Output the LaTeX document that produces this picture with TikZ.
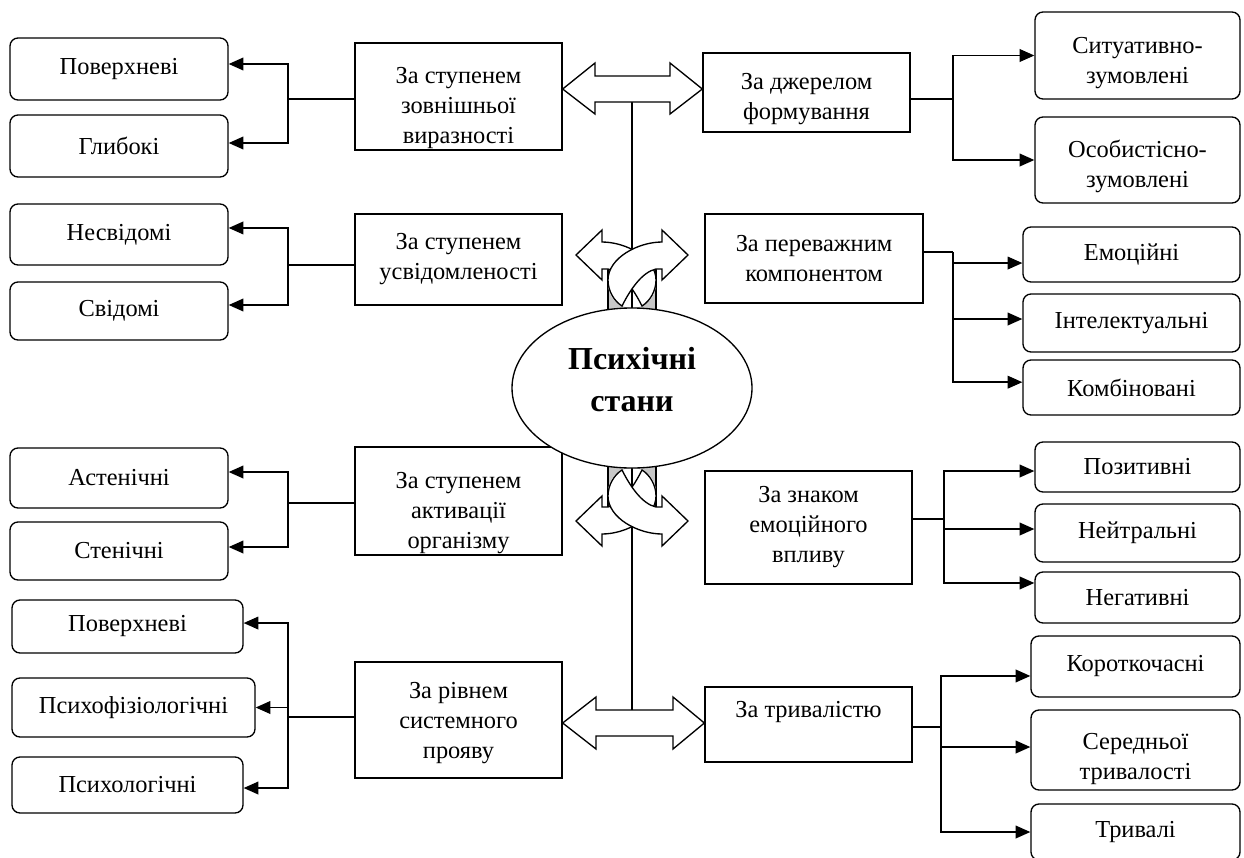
\documentclass[tikz,border=0pt]{standalone}
\usepackage{fontspec}
\setmainfont{Liberation Serif}
\usetikzlibrary{arrows.meta,shapes.geometric}
% invisible strut that pushes a centred text block down by #1 px
\newcommand\lowerby[1]{\rule{0pt}{\dimexpr 12pt+#1pt*3/2\relax}}
\begin{document}
\begin{tikzpicture}[x=0.75pt,y=-0.75pt,
  txt/.style={font=\fontsize{18.3}{22.5}\selectfont, align=center, inner sep=0pt},
  wh/.style 2 args={minimum width=#1*0.75pt, minimum height=#2*0.75pt},
  cat/.style={txt, draw, line width=1pt},
  leaf/.style={txt, draw, line width=1pt, rounded corners=6pt},
  conn/.style={line width=1.1pt},
  arr/.style={conn, -{Triangle[length=11pt,width=9.5pt]}},
  fat/.style={draw, fill=white, line width=1pt, line join=miter},
  twist/.pic={
    % grey backing plate between the two curved arrows
    \filldraw[fill=black!22, line width=0.9pt] (-24,-40) rectangle (24,4);
    \fill[white] (0,-24) circle[radius=24];
    % rear arrow, pointing left
    \path[fat] (10,-2) .. controls (18,-7) and (24,-17) .. (24,-28)
      .. controls (24,-50) and (-6,-66) .. (-30,-66)
      -- (-30,-78) -- (-56,-53) -- (-30,-28) -- (-30,-39) -- (-24,-39)
      .. controls (-10,-36) and (2,-18) .. (10,-2) -- cycle;
    \draw[conn] (0,-45) -- (0,3);
    % front arrow, pointing right
    \path[fat] (-10,-2) .. controls (-18,-7) and (-24,-17) .. (-24,-28)
      .. controls (-24,-50) and (6,-66) .. (30,-66)
      -- (30,-78) -- (56,-53) -- (30,-28) -- (30,-39) -- (24,-39)
      .. controls (10,-36) and (-2,-18) .. (-10,-2) -- cycle;
  }
]
\fill[white] (0,0) rectangle (1244,857);
\useasboundingbox (0,0) rectangle (1244,857);

% ---- classification criteria, left
\node[cat, wh={207}{107}] (k1) at (458.5,96.5) {\lowerby{12}За ступенем\\зовнішньої\\виразності};
\node[cat, wh={207}{91}]  (k2) at (458.5,259.5) {За ступенем\\усвідомленості};
\node[cat, wh={207}{108}] (k3) at (458.5,501) {\lowerby{12}За ступенем\\активації\\організму};
\node[cat, wh={207}{116}] (k4) at (458.5,720) {\lowerby{3}За рівнем\\системного\\прояву};

% ---- classification criteria, right
\node[cat, wh={207}{79}]  (r1) at (806.5,92.5) {\lowerby{7}За джерелом\\формування};
\node[cat, wh={218}{89}]  (r2) at (814,258.5) {За переважним\\компонентом};
\node[cat, wh={207}{113}] (r3) at (808.5,527.5) {За знаком\\емоційного\\впливу};
\node[cat, wh={207}{75}]  (r4) at (808.5,724.5) {За тривалістю\\\mbox{}};

% ---- kinds of states, left
\node[leaf, wh={218}{62}] (l1) at (119,69) {Поверхневі};
\node[leaf, wh={218}{62}] (l2) at (119,146) {Глибокі};
\node[leaf, wh={218}{61}] (l3) at (119,234.5) {Несвідомі};
\node[leaf, wh={218}{58}] (l4) at (119,311) {Свідомі};
\node[leaf, wh={218}{60}] (l5) at (119,478) {Астенічні};
\node[leaf, wh={218}{58}] (l6) at (119,551) {Стенічні};
\node[leaf, wh={231}{53}] (l7) at (127.5,626.5) {Поверхневі};
\node[leaf, wh={243}{59}] (l8) at (133.5,707.5) {Психофізіологічні};
\node[leaf, wh={231}{56}] (l9) at (127.5,785) {Психологічні};

% ---- kinds of states, right
\node[leaf, wh={205}{87}] (s1) at (1137.5,55.5) {\lowerby{8}Ситуативно-\\зумовлені};
\node[leaf, wh={205}{86}] (s2) at (1137.5,160) {\lowerby{7}Особистісно-\\зумовлені};
\node[leaf, wh={217}{55}] (s3) at (1131.5,254.5) {Емоційні};
\node[leaf, wh={217}{58}] (s4) at (1131.5,323) {Інтелектуальні};
\node[leaf, wh={217}{55}] (s5) at (1131.5,387.5) {Комбіновані};
\node[leaf, wh={205}{50}] (s6) at (1137.5,467) {Позитивні};
\node[leaf, wh={205}{58}] (s7) at (1137.5,533) {Нейтральні};
\node[leaf, wh={205}{51}] (s8) at (1137.5,597.5) {Негативні};
\node[leaf, wh={209}{61}] (s9) at (1135.5,666.5) {Короткочасні};
\node[leaf, wh={209}{80}] (s10) at (1135.5,750) {\lowerby{9}Середньої\\тривалості};
\node[leaf, wh={209}{56}] (s11) at (1135.5,832) {Тривалі};

% ---- branching connectors, left
\coordinate (jl1) at (288,99);
\coordinate (jl2) at (288,265);
\coordinate (jl3) at (288,503);
\coordinate (jl4) at (288,717);
\draw[conn] (k1.west |- jl1) -- (jl1);
\draw[arr] (jl1) |- ([yshift=3.75pt]l1.east);
\draw[arr] (jl1) |- ([yshift=2.25pt]l2.east);
\draw[conn] (k2.west |- jl2) -- (jl2);
\draw[arr] (jl2) |- ([yshift=4.9pt]l3.east);
\draw[arr] (jl2) |- ([yshift=4.5pt]l4.east);
\draw[conn] (k3.west |- jl3) -- (jl3);
\draw[arr] (jl3) |- ([yshift=4.5pt]l5.east);
\draw[arr] (jl3) |- ([yshift=3pt]l6.east);
\draw[conn] (k4.west |- jl4) -- (jl4);
\draw[arr] (jl4) |- ([yshift=2.6pt]l7.east);
\draw[arr] (jl4) |- (l8.east);
\draw[arr] (jl4) |- ([yshift=-2.25pt]l9.east);

% ---- branching connectors, right
\coordinate (jr1) at (953,99);
\coordinate (jr2) at (953,252);
\coordinate (jr3) at (944,519);
\coordinate (jr4) at (941,727);
\draw[conn] (r1.east |- jr1) -- (jr1);
\draw[arr] (jr1) |- (s1.west);
\draw[arr] (jr1) |- (s2.west);
\draw[conn] (r2.east |- jr2) -- (jr2);
\draw[arr] (jr2) |- ([yshift=-6.4pt]s3.west);
\draw[arr] (jr2) |- ([yshift=3pt]s4.west);
\draw[arr] (jr2) |- ([yshift=4pt]s5.west);
\draw[conn] (r3.east |- jr3) -- (jr3);
\draw[arr] (jr3) |- ([yshift=-3pt]s6.west);
\draw[arr] (jr3) |- ([yshift=3pt]s7.west);
\draw[arr] (jr3) |- ([yshift=10.9pt]s8.west);
\draw[conn] (r4.east |- jr4) -- (jr4);
\draw[arr] (jr4) |- ([yshift=-7.1pt]s9.west);
\draw[arr] (jr4) |- ([yshift=2.25pt]s10.west);
\draw[arr] (jr4) |- (s11.west);

% ---- central spine
\coordinate (spt) at (632,102);
\coordinate (spb) at (632,710);
\draw[conn] (spt) -- (632,308);
\draw[conn] (632,468) -- (spb);

% ---- twisted arrows above and below the centre
\pic at (632,308) {twist};
\pic[yscale=-1] at (632,468) {twist};

% ---- centre
\node[draw, ellipse, fill=white, line width=1pt, wh={240}{160}] (ell) at (632,388) {};
\node[font=\bfseries\fontsize{24}{31.5}\selectfont, align=center, inner sep=0pt] (title) at (632,380) {Психічні\\стани};

% ---- broad double arrows
\path[fat] (k1.east |- 0,89) -- (595,63) -- (595,76) -- (670,76) -- (670,63)
  -- (r1.west |- 0,89) -- (670,114) -- (670,102) -- (595,102) -- (595,114) -- cycle;
\path[fat] (k4.east |- 0,723) -- (596,697) -- (596,710) -- (673,710) -- (673,697)
  -- (r4.west |- 0,723) -- (673,749) -- (673,736) -- (596,736) -- (596,749) -- cycle;
\end{tikzpicture}
\end{document}
